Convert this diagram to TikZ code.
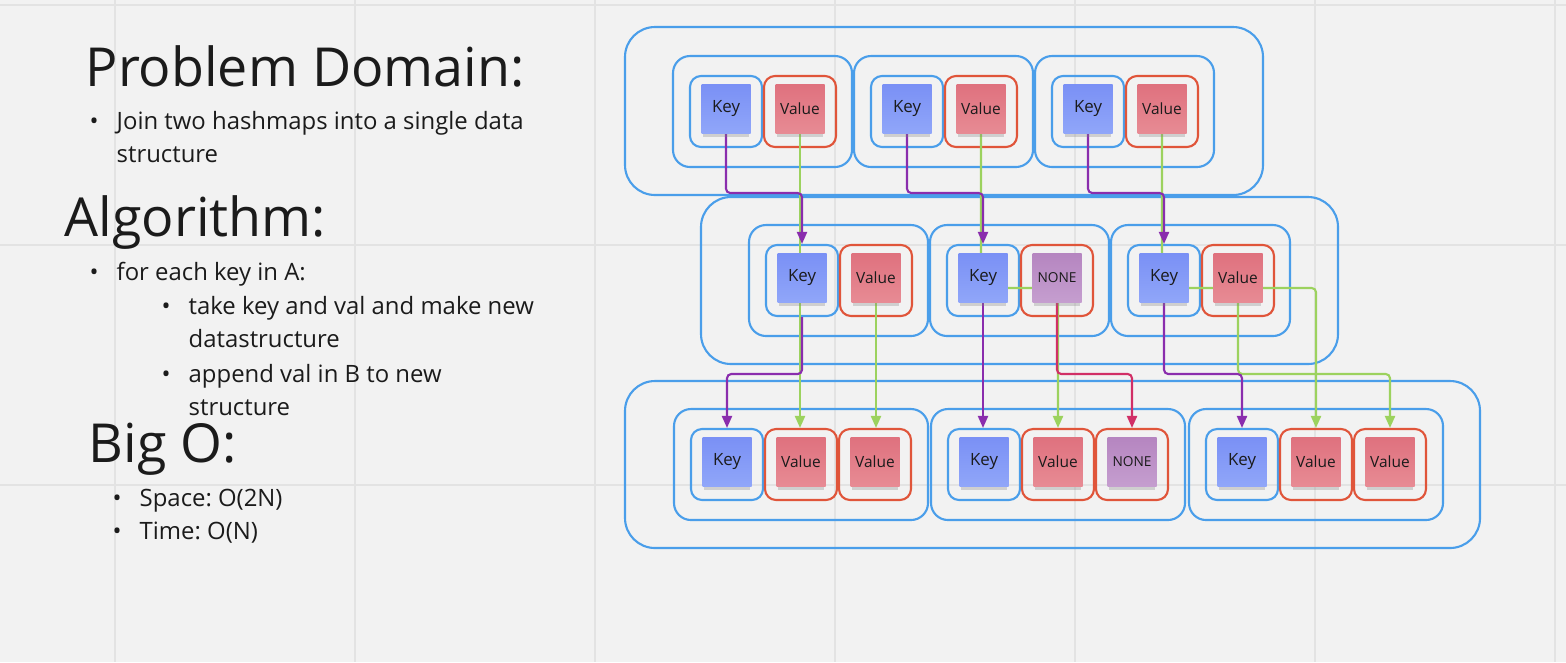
\documentclass[tikz,border=0pt]{standalone}
\usepackage{fontspec}
\setmainfont{Open Sans}
\usetikzlibrary{arrows.meta,shadows}
\frenchspacing

\definecolor{bgpaper}{HTML}{F2F2F2}
\definecolor{gridgray}{HTML}{E3E3E3}
\definecolor{boxblue}{HTML}{4A9EEA}
\definecolor{boxred}{HTML}{E0553A}
\definecolor{keytop}{HTML}{7A90F5}
\definecolor{keybot}{HTML}{90A6F9}
\definecolor{valtop}{HTML}{DF717E}
\definecolor{valbot}{HTML}{E78B94}
\definecolor{nonetop}{HTML}{B585C0}
\definecolor{nonebot}{HTML}{C59ECF}
\definecolor{keyline}{HTML}{8A2DAD}
\definecolor{valline}{HTML}{9CD25E}
\definecolor{noneline}{HTML}{D12F66}
\definecolor{ink}{HTML}{1B1B1B}

\pgfdeclarelayer{back}
\pgfdeclarelayer{wires}
\pgfsetlayers{back,wires,main}

\tikzset{
  gridline/.style={gridgray, line width=0.4pt},
  outerbox/.style={draw=boxblue, line width=0.6pt, rounded corners=3mm},
  groupbox/.style={draw=boxblue, line width=0.6pt, rounded corners=1.7mm},
  cellbox/.style={line width=0.6pt, rounded corners=1.1mm, minimum width=7.2mm, minimum height=7.1mm, inner sep=0pt},
  keycell/.style={cellbox, draw=boxblue},
  valcell/.style={cellbox, draw=boxred},
  keytext/.style={font=\fontsize{4.8}{5}\selectfont},
  valtext/.style={font=\fontsize{4.4}{5}\selectfont},
  nonetext/.style={font=\fontsize{3.9}{5}\selectfont},
  note/.style={minimum size=4.9mm, inner sep=0pt, text=ink,
    top color=#1top, bottom color=#1bot, #1text,
    drop shadow={shadow xshift=0mm, shadow yshift=-0.5mm, shadow scale=0.95, opacity=0.3}},
  wire/.style={line width=0.6pt, rounded corners=1.2pt, -{Triangle[width=1mm,length=1.2mm]}},
  keywire/.style={wire, keyline},
  valwire/.style={wire, valline},
  nonewire/.style={wire, noneline},
  headtext/.style={font=\fontsize{15.3}{18}\selectfont, text=ink, anchor=base west, inner sep=0pt},
  bodytext/.style={font=\fontsize{6.8}{8}\selectfont, text=ink, anchor=base west, inner sep=0pt},
  dot/.style={font=\fontsize{6.8}{8}\selectfont, text=ink, anchor=base, inner sep=0pt}
}

\begin{document}
\begin{tikzpicture}[x=0.1mm, y=-0.1mm]
\useasboundingbox (0,0) rectangle (1566,662);

\begin{pgfonlayer}{back}
  % paper and grid
  \fill[bgpaper] (0,0) rectangle (1566,662);
  \foreach \gx in {115,355,...,1555} \draw[gridline] (\gx,0) -- (\gx,662);
  \foreach \gy in {5,245,485} \draw[gridline] (0,\gy) -- (1566,\gy);
  % maps
  \draw[outerbox] (625,27) rectangle (1263,195);
  \draw[outerbox] (701,197) rectangle (1338,364);
  \draw[outerbox] (625,381) rectangle (1480,548);
\end{pgfonlayer}

% routing rails
\coordinate (railtop) at (0,193);
\coordinate (railmid) at (0,288);
\coordinate (railbot) at (0,374);

% hashmap A
\foreach \gl [count=\i] in {673,854,1035} {
  \begin{pgfonlayer}{back}
    \draw[groupbox] (\gl,56) rectangle ++(179,111);
    \node[keycell] (tkc\i) at (\gl+53,111.5) {};
    \node[valcell] (tvc\i) at (\gl+127,111.5) {};
  \end{pgfonlayer}
  \node[note=key] (tk\i) at (\gl+53,108.5) {Key};
  \node[note=val] (tv\i) at (\gl+127,108.5) {Value};
}

% hashmap B
\foreach \gl/\vkind/\vtext [count=\i] in {749/val/Value,930/none/NONE,1111/val/Value} {
  \begin{pgfonlayer}{back}
    \draw[groupbox] (\gl,225) rectangle ++(179,111);
    \node[keycell] (mkc\i) at (\gl+53,280.5) {};
    \node[valcell] (mvc\i) at (\gl+127,280.5) {};
  \end{pgfonlayer}
  \node[note=key] (mk\i) at (\gl+53,277.5) {Key};
  \node[note=\vkind] (mv\i) at (\gl+127,277.5) {\vtext};
}

% joined result
\foreach \gl/\wkind/\wtext [count=\i] in {674/val/Value,931/none/NONE,1189/val/Value} {
  \begin{pgfonlayer}{back}
    \draw[groupbox] (\gl,409) rectangle ++(254,111);
    \node[keycell] (bkc\i) at (\gl+53,464.5) {};
    \node[valcell] (bvc\i) at (\gl+127,464.5) {};
    \node[valcell] (bwc\i) at (\gl+201,464.5) {};
  \end{pgfonlayer}
  \node[note=key] (bk\i) at (\gl+53,461.5) {Key};
  \node[note=val] (bv\i) at (\gl+127,461.5) {Value};
  \node[note=\wkind] (bw\i) at (\gl+201,461.5) {\wtext};
}

\begin{pgfonlayer}{wires}
  % values
  \draw[valwire] (tv1.center) -- (tv1.center |- bvc1.north);
  \draw[valwire] (tv2.center) |- (bvc2.north |- railmid) -- (bvc2.north);
  \draw[valwire] (tv3.center) |- (bvc3.north |- railmid) -- (bvc3.north);
  \draw[valwire] (mv1.center) -- (mv1.center |- bwc1.north);
  \draw[valwire] (mv3.center) |- (bwc3.north |- railbot) -- (bwc3.north);
  % keys
  \foreach \i in {1,2,3}
    \draw[keywire] (tk\i.center) |- (mkc\i.north |- railtop) -- (mkc\i.north);
  \draw[keywire] (mkc1.south) |- (bkc1.north |- railbot) -- (bkc1.north);
  \draw[keywire] (mk2.center) -- (mk2.center |- bkc2.north);
  \draw[keywire] (mk3.center) |- (bkc3.north |- railbot) -- (bkc3.north);
  % missing value
  \draw[nonewire] (mv2.center) |- (bwc2.north |- railbot) -- (bwc2.north);
\end{pgfonlayer}

% notes
\node[headtext] (pdhead) at (85,86) {Problem Domain:};
\node[dot] (pddot) at (94,129) {•};
\node[bodytext] (pdline1) at (116,129) {Join two hashmaps into a single data};
\node[bodytext] (pdline2) at (116,162) {structure};

\node[headtext] (alhead) at (64,236) {Algorithm:};
\node[dot] (aldot1) at (94,280) {•};
\node[bodytext] (alline1) at (116,280) {for each key in A:};
\node[dot] (aldot2) at (166,314) {•};
\node[bodytext] (alline2) at (188,314) {take key and val and make new};
\node[bodytext] (alline3) at (188,347) {datastructure};
\node[dot] (aldot3) at (166,382) {•};
\node[bodytext] (alline4) at (188,382) {append val in B to new};
\node[bodytext] (alline5) at (188,415) {structure};

\node[headtext] (bohead) at (88,462) {Big O:};
\node[dot] (bodot1) at (117,506) {•};
\node[bodytext] (boline1) at (139,506) {Space: O(2N)};
\node[dot] (bodot2) at (117,539) {•};
\node[bodytext] (boline2) at (139,539) {Time: O(N)};
\end{tikzpicture}
\end{document}
